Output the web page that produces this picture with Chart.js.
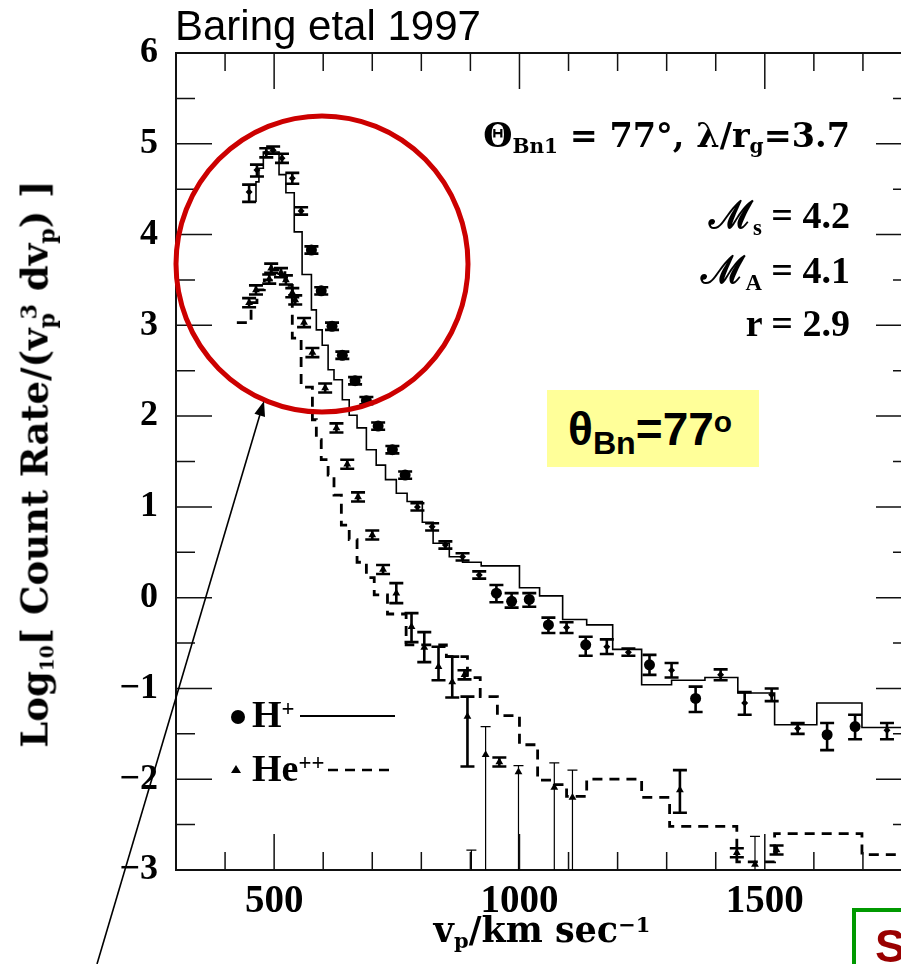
<!DOCTYPE html>
<html>
<head>
<meta charset="utf-8">
<script src="https://cdn.jsdelivr.net/npm/chart.js@4.4.1/dist/chart.umd.min.js"></script>
<style>
  html, body { margin: 0; padding: 0; background: #fff; overflow: hidden; }
  #wrap { position: relative; width: 960px; height: 964px; }
  #c { position: absolute; left: 0; top: 0; }
  .t { position: absolute; white-space: nowrap; line-height: 1; color: #000; }
  .serif { font-family: 'Liberation Serif', 'DejaVu Serif', serif; font-weight: bold; }
  .wide { font-family: 'DejaVu Serif', 'Liberation Serif', serif; font-weight: bold; }
  .sans { font-family: 'Liberation Sans', Arial, sans-serif; }
  .t sub, .t sup { font-size: .6em; vertical-align: baseline; position: relative; line-height: 0; }
  .t sub { top: .3em; }
  .t sup { top: -.5em; }
</style>
</head>
<body>
<div id="wrap">
  <canvas id="c" width="960" height="964"></canvas>

  <div class="t sans" style="left:175px;top:5px;font-size:42px;">Baring etal 1997</div>

  <div class="t wide" style="left:0;width:850px;text-align:right;top:119px;font-size:33.5px;">&Theta;<sub>Bn1</sub> = 77&deg;, &lambda;/r<sub>g</sub>=3.7</div>
  <div class="t serif" style="left:0;width:850px;text-align:right;top:196px;font-size:38px;">&#8499;<sub>s</sub> = 4.2</div>
  <div class="t serif" style="left:0;width:850px;text-align:right;top:251px;font-size:38px;">&#8499;<sub>A</sub> = 4.1</div>
  <div class="t serif" style="left:0;width:850px;text-align:right;top:304px;font-size:38px;">r = 2.9</div>

  <div style="position:absolute;left:547px;top:390px;width:212px;height:77px;background:#ffff99;"></div>
  <div class="t sans" style="left:568px;top:406px;font-size:46px;font-weight:bold;">&theta;<sub style="font-size:.7em;top:.28em;">Bn</sub>=77<sup style="font-size:.65em;top:-.45em;">o</sup></div>

  <div class="t wide" style="left:35px;top:464px;font-size:37px;transform:translate(-50%,-50%) rotate(-90deg);">Log<sub style="font-size:.5em">10</sub>[ Count Rate/(v<sub>p</sub><sup style="margin-left:-.3em">3</sup> dv<sub>p</sub>) ]</div>
  <div class="t wide" style="left:542px;top:912px;font-size:35px;transform:translateX(-50%);">v<sub>p</sub>/km sec<sup>&minus;1</sup></div>

  <div class="t serif" style="left:252px;top:695px;font-size:38px;">H<sup>+</sup></div>
  <div class="t serif" style="left:252px;top:749px;font-size:38px;">He<sup>++</sup></div>

  <div style="position:absolute;left:852px;top:908px;width:140px;height:100px;border:4px solid #009900;box-sizing:border-box;"></div>
  <div class="t sans" style="left:875px;top:923px;font-size:46px;font-weight:bold;color:#990000;">S</div>
</div>

<script>
// axis ticks
const xTickLabels = [500, 1000, 1500];
const yTickLabels = [-3, -2, -1, 0, 1, 2, 3, 4, 5, 6];

// H+ model (solid histogram): left bin edge / log10 count rate
const hModelV = [463, 463, 469, 478, 510, 524, 541, 557, 576, 586, 598, 610, 622, 639, 653, 669, 688, 708, 727, 749,
  771, 802, 824, 857, 884, 922, 1000, 1041, 1088, 1137, 1190, 1249, 1310, 1378, 1445, 1520, 1606, 1698, 1800];
const hModelLog = [4.36, 4.58, 4.73, 4.91, 4.66, 4.46, 4.03, 3.56, 3.17, 2.95, 2.78, 2.51, 2.40, 2.18, 2.01, 1.87, 1.63, 1.46, 1.30, 1.15,
  1.06, 0.83, 0.60, 0.45, 0.39, 0.35, 0.11, 0.02, -0.24, -0.30, -0.57, -0.96, -0.91, -0.88, -1.05, -1.40, -1.16, -1.43, -1.43];

// He++ model (dashed histogram)
const heModelV = [424, 453, 465, 480, 494, 522, 537, 555, 578, 586, 596, 610, 622, 637, 653, 669, 688, 704, 731, 769,
  851, 894, 920, 955, 1000, 1037, 1071, 1096, 1137, 1249, 1306, 1443, 1520, 1698, 1800];
const heModelLog = [3.03, 3.25, 3.39, 3.50, 3.61, 3.44, 2.86, 2.32, 1.96, 1.74, 1.52, 1.35, 1.13, 0.80, 0.64, 0.39, 0.22, 0.03, -0.18, -0.52,
  -0.65, -0.88, -1.09, -1.30, -1.62, -2.01, -2.06, -2.19, -2.00, -2.20, -2.52, -2.91, -2.60, -2.83, -2.83];

// H+ data, large dots
const hDataV = [576, 596, 618, 639, 665, 688, 712, 741, 767, 953, 984, 1020, 1059, 1135, 1265, 1359, 1627, 1684];
const hDataLog = [3.83, 3.38, 2.99, 2.67, 2.39, 2.17, 1.89, 1.63, 1.35, 0.05, -0.04, -0.02, -0.30, -0.52, -0.74, -1.11, -1.51, -1.42];
const hDataHi = [3.87, 3.42, 3.03, 2.71, 2.43, 2.21, 1.93, 1.67, 1.39, 0.14, 0.05, 0.05, -0.22, -0.43, -0.63, -0.98, -1.38, -1.29];
const hDataLo = [3.79, 3.34, 2.95, 2.63, 2.35, 2.13, 1.85, 1.59, 1.31, -0.05, -0.11, -0.10, -0.39, -0.64, -0.85, -1.26, -1.68, -1.56];

// H+ data, small symbols (peak and tail)
const hSmallV = [449, 465, 484, 498, 516, 537, 555, 792, 822, 849, 884, 918, 1096, 1178, 1222, 1310, 1410, 1459, 1514, 1567, 1749];
const hSmallLog = [4.47, 4.71, 4.90, 4.93, 4.84, 4.62, 4.26, 1.00, 0.78, 0.58, 0.45, 0.25, -0.33, -0.54, -0.60, -0.80, -0.85, -1.16, -1.07, -1.44, -1.46];
const hSmallHi = [4.55, 4.77, 4.95, 4.97, 4.89, 4.68, 4.30, 1.04, 0.82, 0.62, 0.49, 0.29, -0.27, -0.46, -0.56, -0.72, -0.79, -1.04, -1.00, -1.38, -1.38];
const hSmallLo = [4.36, 4.64, 4.85, 4.89, 4.79, 4.56, 4.22, 0.96, 0.74, 0.54, 0.41, 0.21, -0.39, -0.62, -0.64, -0.88, -0.91, -1.29, -1.14, -1.50, -1.56];

// He++ data
const heDataV = [449, 463, 490, 494, 514, 524, 537, 543, 561, 578, 604, 627, 649, 671, 700, 722, 749, 780, 806, 835,
  863, 888, 894, 931, 959, 998, 1071, 1108, 902, 1327, 1443, 1480, 1524];
const heDataLog = [3.25, 3.39, 3.51, 3.63, 3.58, 3.50, 3.36, 3.28, 3.03, 2.70, 2.31, 1.87, 1.47, 1.11, 0.69, 0.31, 0.05, -0.32, -0.55, -0.76,
  -0.93, -0.85, -1.31, -1.73, -1.81, -1.92, -2.09, -2.20, -3.30, -2.12, -2.81, -2.94, -2.78];
const heDataHi = [3.30, 3.44, 3.56, 3.68, 3.63, 3.55, 3.41, 3.33, 3.08, 2.75, 2.36, 1.92, 1.52, 1.16, 0.74, 0.36, 0.16, -0.17, -0.38, -0.54,
  -0.65, -0.80, -1.09, -1.42, -1.76, -1.85, -1.82, -1.90, -2.78, -1.90, -2.76, -2.63, -2.73];
const heDataLo = [3.20, 3.34, 3.46, 3.58, 3.53, 3.45, 3.31, 3.23, 2.98, 2.65, 2.26, 1.82, 1.42, 1.06, 0.64, 0.26, -0.06, -0.49, -0.71, -0.91,
  -1.10, -0.90, -1.86, -3.30, -1.86, -3.30, -3.30, -3.30, -3.40, -2.37, -2.86, -3.30, -2.83];

const pts = (xs, ys) => xs.map((v, i) => ({ x: v, y: ys[i] }));
const serifFont = (size) => ({ family: "'Liberation Serif', 'DejaVu Serif', serif", size: size, weight: 'bold' });

// error bars from errHi / errLo on a dataset
const errBars = {
  id: 'errBars',
  beforeDatasetsDraw(chart) {
    const { ctx, chartArea: a, scales: { x, y } } = chart;
    ctx.save();
    ctx.beginPath();
    ctx.rect(a.left, a.top, a.right - a.left, a.bottom - a.top);
    ctx.clip();
    ctx.strokeStyle = '#000';
    chart.data.datasets.forEach(ds => {
      if (!ds.errHi) return;
      ds.data.forEach((p, i) => {
        const px = x.getPixelForValue(p.x);
        const y1 = y.getPixelForValue(ds.errHi[i]);
        const y2 = y.getPixelForValue(ds.errLo[i]);
        if (Math.abs(y2 - y1) < 6) return;
        const thin = ds.errLo[i] < -3;
        ctx.lineWidth = thin ? 1.2 : 2.6;
        const cap = thin ? 5 : 7;
        ctx.beginPath();
        ctx.moveTo(px, y1); ctx.lineTo(px, y2);
        ctx.moveTo(px - cap, y1); ctx.lineTo(px + cap, y1);
        ctx.moveTo(px - cap, y2); ctx.lineTo(px + cap, y2);
        ctx.stroke();
      });
    });
    ctx.restore();
  }
};

// inward ticks on all four sides, top and right frame
const frame = {
  id: 'frame',
  afterDraw(chart) {
    const { ctx, chartArea: a, scales: { x, y } } = chart;
    ctx.save();
    ctx.strokeStyle = '#111';
    ctx.lineWidth = 2;
    ctx.beginPath();
    ctx.moveTo(a.left, a.top); ctx.lineTo(a.right, a.top); ctx.lineTo(a.right, a.bottom);
    ctx.stroke();
    ctx.lineWidth = 1.5;
    ctx.beginPath();
    for (let v = 400; v < 1800; v += 100) {
      const px = x.getPixelForValue(v);
      const len = v % 500 === 0 ? 36 : 18;
      ctx.moveTo(px, a.bottom); ctx.lineTo(px, a.bottom - len);
      ctx.moveTo(px, a.top); ctx.lineTo(px, a.top + len);
    }
    for (let v = -2.5; v < 6; v += 0.5) {
      const py = y.getPixelForValue(v);
      const len = Number.isInteger(v) ? 36 : 19;
      ctx.moveTo(a.left, py); ctx.lineTo(a.left + len, py);
      ctx.moveTo(a.right, py); ctx.lineTo(a.right - len, py);
    }
    ctx.moveTo(a.left, a.top); ctx.lineTo(a.left + 26, a.top);
    ctx.stroke();
    ctx.restore();
  }
};

// legend marks, red circle and arrow
const decor = {
  id: 'decor',
  afterDraw(chart) {
    const { ctx } = chart;
    ctx.save();
    ctx.fillStyle = '#000';
    ctx.strokeStyle = '#000';
    ctx.beginPath(); ctx.arc(238, 717, 7, 0, Math.PI * 2); ctx.fill();
    ctx.lineWidth = 2;
    ctx.beginPath(); ctx.moveTo(300, 716); ctx.lineTo(395, 716); ctx.stroke();
    ctx.beginPath(); ctx.moveTo(231, 773); ctx.lineTo(241, 773); ctx.lineTo(236, 765); ctx.closePath(); ctx.fill();
    ctx.lineWidth = 2.6;
    ctx.setLineDash([10, 7]);
    ctx.beginPath(); ctx.moveTo(328, 770); ctx.lineTo(390, 770); ctx.stroke();
    ctx.setLineDash([]);

    ctx.strokeStyle = '#cc0000';
    ctx.lineWidth = 5;
    ctx.beginPath(); ctx.ellipse(322, 264, 146, 148, 0, 0, Math.PI * 2); ctx.stroke();

    const tx = 264, ty = 401, fx = 97, fy = 964;
    const ang = Math.atan2(ty - fy, tx - fx);
    ctx.strokeStyle = '#000';
    ctx.lineWidth = 1.6;
    ctx.beginPath(); ctx.moveTo(fx, fy); ctx.lineTo(tx - 10 * Math.cos(ang), ty - 10 * Math.sin(ang)); ctx.stroke();
    ctx.beginPath();
    ctx.moveTo(tx, ty);
    ctx.lineTo(tx - 15 * Math.cos(ang) + 5.5 * Math.sin(ang), ty - 15 * Math.sin(ang) - 5.5 * Math.cos(ang));
    ctx.lineTo(tx - 15 * Math.cos(ang) - 5.5 * Math.sin(ang), ty - 15 * Math.sin(ang) + 5.5 * Math.cos(ang));
    ctx.closePath(); ctx.fill();
    ctx.restore();
  }
};

new Chart(document.getElementById('c'), {
  type: 'scatter',
  data: {
    datasets: [
      {
        label: 'H+ model', data: pts(hModelV, hModelLog), showLine: true, stepped: 'before',
        borderColor: '#000', borderWidth: 1.6, pointRadius: 0
      },
      {
        label: 'He++ model', data: pts(heModelV, heModelLog), showLine: true, stepped: 'before',
        borderColor: '#000', borderWidth: 2.8, borderDash: [10, 7], pointRadius: 0
      },
      {
        label: 'H+', data: pts(hDataV, hDataLog), errHi: hDataHi, errLo: hDataLo,
        pointStyle: 'circle', pointRadius: 5.5, backgroundColor: '#000', borderColor: '#000', borderWidth: 0
      },
      {
        label: 'H+ (small)', data: pts(hSmallV, hSmallLog), errHi: hSmallHi, errLo: hSmallLo,
        pointStyle: 'rectRot', pointRadius: 3.5, backgroundColor: '#000', borderColor: '#000', borderWidth: 0
      },
      {
        label: 'He++', data: pts(heDataV, heDataLog), errHi: heDataHi, errLo: heDataLo,
        pointStyle: 'triangle', pointRadius: 4.5, backgroundColor: '#000', borderColor: '#000', borderWidth: 0
      }
    ]
  },
  options: {
    responsive: false,
    animation: false,
    devicePixelRatio: 1,
    layout: { padding: { top: 53, right: 48, left: 0, bottom: 0 } },
    plugins: { legend: { display: false }, tooltip: { enabled: false } },
    scales: {
      x: {
        type: 'linear', min: 300, max: 1800,
        afterBuildTicks: s => { s.ticks = xTickLabels.map(v => ({ value: v })); },
        afterFit: s => { s.height = 94; },
        grid: { display: false, drawTicks: false },
        border: { display: true, color: '#111', width: 2 },
        ticks: {
          font: serifFont(39), color: '#000', padding: 9, maxRotation: 0, autoSkip: false,
          callback: v => String(v)
        }
      },
      y: {
        type: 'linear', min: -3, max: 6,
        afterBuildTicks: s => { s.ticks = yTickLabels.map(v => ({ value: v })); },
        afterFit: s => { s.width = 176; },
        grid: { display: false, drawTicks: false },
        border: { display: true, color: '#111', width: 2 },
        ticks: {
          font: serifFont(36), color: '#000', padding: 18,
          callback: v => (v < 0 ? '\u2212' + Math.abs(v) : String(v))
        }
      }
    }
  },
  plugins: [errBars, frame, decor]
});
</script>
</body>
</html>
